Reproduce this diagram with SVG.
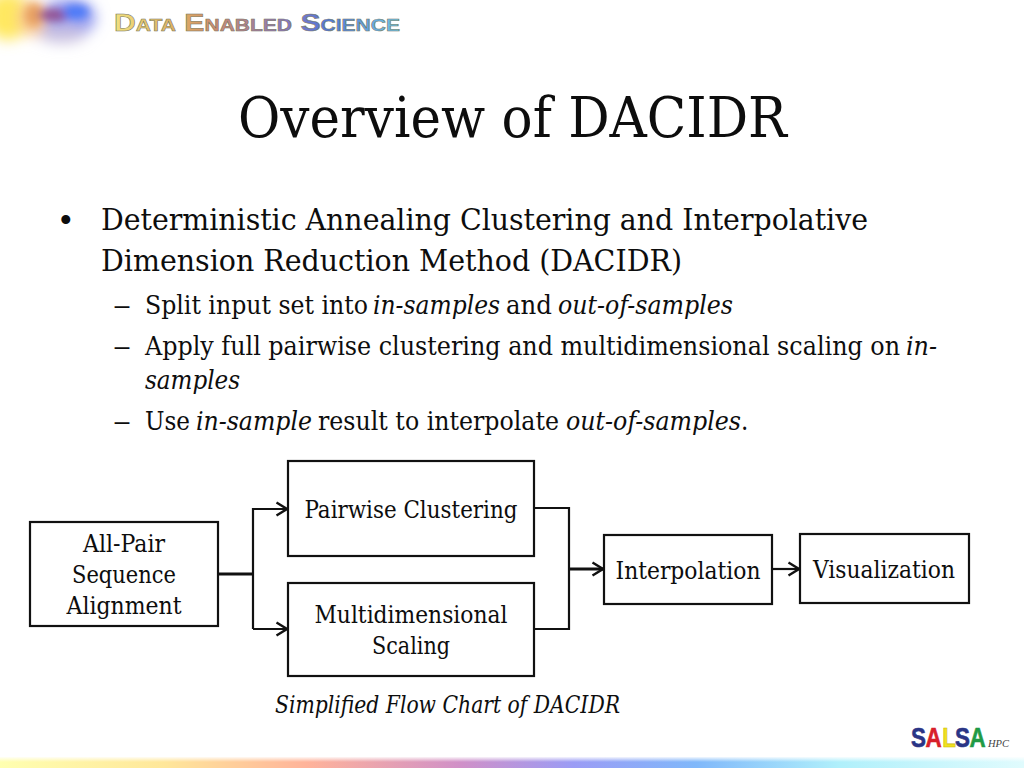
<svg xmlns="http://www.w3.org/2000/svg" width="1024" height="768" viewBox="0 0 1024 768">
<style>
text{font-family:"DejaVu Serif Condensed","DejaVu Serif","Liberation Serif",serif;fill:#0d0d0d}
.t1{font-size:30px}.t2{font-size:25.500px}.d{font-size:24.500px;text-anchor:middle}
.i{font-style:italic}
.box{fill:#fff;stroke:#111;stroke-width:2.2}
.c{fill:none;stroke:#111;stroke-width:2.2}
.c2{fill:none;stroke:#111;stroke-width:3}
text.logo{font-family:"Liberation Sans",sans-serif;font-weight:bold}
</style>
<defs>
<marker id="arr" markerUnits="userSpaceOnUse" markerWidth="14" markerHeight="16" refX="12" refY="8" orient="auto"><path d="M1.5 1.5L12 8L1.5 14.500" fill="none" stroke="#111" stroke-width="2.4"/></marker>
<linearGradient id="bar" x1="0" x2="1" y1="0" y2="0"><stop offset="0" stop-color="#ffffb0"/><stop offset=".16" stop-color="#ffe79a"/><stop offset=".3" stop-color="#ffb39a"/><stop offset=".45" stop-color="#d090c8"/><stop offset=".56" stop-color="#9b9cf5"/><stop offset=".68" stop-color="#80b8fa"/><stop offset=".82" stop-color="#b0f0fb"/><stop offset="1" stop-color="#e0fbfd"/></linearGradient>
<linearGradient id="fade" x1="0" x2="0" y1="0" y2="1"><stop offset="0" stop-color="#fff" stop-opacity=".9"/><stop offset="1" stop-color="#fff" stop-opacity="0"/></linearGradient>
<linearGradient id="des" gradientUnits="userSpaceOnUse" x1="114" x2="400" y1="0" y2="0"><stop offset="0" stop-color="#f0e080"/><stop offset=".22" stop-color="#e0b060"/><stop offset=".35" stop-color="#d08c70"/><stop offset=".6" stop-color="#8a78c0"/><stop offset=".75" stop-color="#5078d8"/><stop offset="1" stop-color="#70c8e8"/></linearGradient>
<filter id="blur" x="-50%" y="-50%" width="200%" height="200%"><feGaussianBlur stdDeviation="7"/></filter>
<filter id="blur2" x="-50%" y="-50%" width="200%" height="200%"><feGaussianBlur stdDeviation="4"/></filter>
</defs>
<rect width="1024" height="768" fill="#fff"/>
<g id="logo-top">
<g filter="url(#blur)">
<ellipse cx="8" cy="16" rx="22" ry="24" fill="#ffe860"/>
<ellipse cx="68" cy="18" rx="28" ry="20" fill="#9aa0f0"/>
<ellipse cx="62" cy="34" rx="24" ry="9" fill="#c8c0e0"/>
<ellipse cx="32" cy="18" rx="14" ry="18" fill="#f8c890"/>
</g>
<g filter="url(#blur2)">
<ellipse cx="34" cy="15" rx="9" ry="11" fill="#e8a060"/>
<ellipse cx="54" cy="15" rx="16" ry="6" fill="#905090"/>
<ellipse cx="76" cy="12" rx="13" ry="7" fill="#4878f8"/>
</g>
<text class="logo" x="114" y="31" textLength="286" lengthAdjust="spacingAndGlyphs" style="fill:url(#des);font-size:23px;font-variant:small-caps;stroke:#77775e;stroke-width:.5">Data Enabled Science</text>
</g>
<rect x="0" y="757" width="1024" height="11" fill="url(#bar)"/>
<rect x="0" y="757" width="1024" height="5" fill="url(#fade)"/>
<text x="238" y="137" font-size="56" textLength="549" lengthAdjust="spacingAndGlyphs">Overview of DACIDR</text>
<g id="bullets">
<text class="t1" x="60" y="231" style="font-family:'Liberation Sans',sans-serif;font-size:33px">•</text>
<text class="t1" x="101" y="230" textLength="767" lengthAdjust="spacingAndGlyphs">Deterministic Annealing Clustering and Interpolative</text>
<text class="t1" x="101" y="271" textLength="581" lengthAdjust="spacingAndGlyphs">Dimension Reduction Method (DACIDR)</text>
<text class="t2" x="113" y="314" textLength="18" lengthAdjust="spacingAndGlyphs">–</text>
<text class="t2" y="314"><tspan x="145" textLength="223" lengthAdjust="spacingAndGlyphs">Split input set into</tspan><tspan class="i" x="373" textLength="127" lengthAdjust="spacingAndGlyphs">in-samples</tspan><tspan x="506" textLength="46" lengthAdjust="spacingAndGlyphs">and</tspan><tspan class="i" x="558" textLength="175" lengthAdjust="spacingAndGlyphs">out-of-samples</tspan></text>
<text class="t2" x="113" y="355" textLength="18" lengthAdjust="spacingAndGlyphs">–</text>
<text class="t2" y="355"><tspan x="145" textLength="755" lengthAdjust="spacingAndGlyphs">Apply full pairwise clustering and multidimensional scaling on</tspan><tspan class="i" x="906" textLength="31" lengthAdjust="spacingAndGlyphs">in-</tspan></text>
<text class="t2 i" x="145" y="389" textLength="95" lengthAdjust="spacingAndGlyphs">samples</text>
<text class="t2" x="113" y="430" textLength="18" lengthAdjust="spacingAndGlyphs">–</text>
<text class="t2" y="430"><tspan x="145" textLength="45" lengthAdjust="spacingAndGlyphs">Use</tspan><tspan class="i" x="196" textLength="116" lengthAdjust="spacingAndGlyphs">in-sample</tspan><tspan x="318" textLength="241" lengthAdjust="spacingAndGlyphs">result to interpolate</tspan><tspan class="i" x="566" textLength="175" lengthAdjust="spacingAndGlyphs">out-of-samples</tspan><tspan x="741">.</tspan></text>
</g>
<g id="connectors">
<path class="c2" d="M218 574H253"/>
<path class="c" d="M253 629V509H287" marker-end="url(#arr)"/>
<path class="c" d="M253 629H287" marker-end="url(#arr)"/>
<path class="c" d="M534 508H569V629H534"/>
<path class="c2" d="M569 569H603" marker-end="url(#arr)"/>
<path class="c" d="M772 569H799" marker-end="url(#arr)"/>
</g>
<g id="node-allpair"><rect class="box" x="30" y="522" width="188" height="104"/>
<text class="d" x="124" y="552" textLength="82" lengthAdjust="spacingAndGlyphs">All-Pair</text><text class="d" x="124" y="583" textLength="104" lengthAdjust="spacingAndGlyphs">Sequence</text><text class="d" x="124" y="614" textLength="115" lengthAdjust="spacingAndGlyphs">Alignment</text></g>
<g id="node-pairwise"><rect class="box" x="288" y="461" width="246" height="95"/>
<text class="d" x="411" y="518" textLength="213" lengthAdjust="spacingAndGlyphs">Pairwise Clustering</text></g>
<g id="node-mds"><rect class="box" x="288" y="583" width="246" height="93"/>
<text class="d" x="411" y="623" textLength="193" lengthAdjust="spacingAndGlyphs">Multidimensional</text><text class="d" x="411" y="654" textLength="78" lengthAdjust="spacingAndGlyphs">Scaling</text></g>
<g id="node-interp"><rect class="box" x="604" y="535" width="168" height="69"/>
<text class="d" x="688" y="579" textLength="145" lengthAdjust="spacingAndGlyphs">Interpolation</text></g>
<g id="node-vis"><rect class="box" x="800" y="534" width="169" height="69"/>
<text class="d" x="884" y="578" textLength="142" lengthAdjust="spacingAndGlyphs">Visualization</text></g>
<text class="i" x="275" y="713" font-size="24.500" textLength="345" lengthAdjust="spacingAndGlyphs">Simplified Flow Chart of DACIDR</text>
<g id="logo-salsa">
<text class="logo" y="747" font-size="28" transform="translate(911 0) scale(.8 1)" style="stroke-width:.6"><tspan x="0" style="fill:#2a3585;stroke:#2a3585">S</tspan><tspan x="18" style="fill:#d8202a;stroke:#d8202a">A</tspan><tspan x="39" style="fill:#f0e020;stroke:#c8b800">L</tspan><tspan x="55" style="fill:#2a3585;stroke:#2a3585">S</tspan><tspan x="73" style="fill:#1f9a45;stroke:#1f9a45">A</tspan></text>
<text x="988" y="747" style="font-family:'Liberation Serif',serif;font-size:10.500px;font-style:italic;fill:#444">HPC</text>
</g>
</svg>
